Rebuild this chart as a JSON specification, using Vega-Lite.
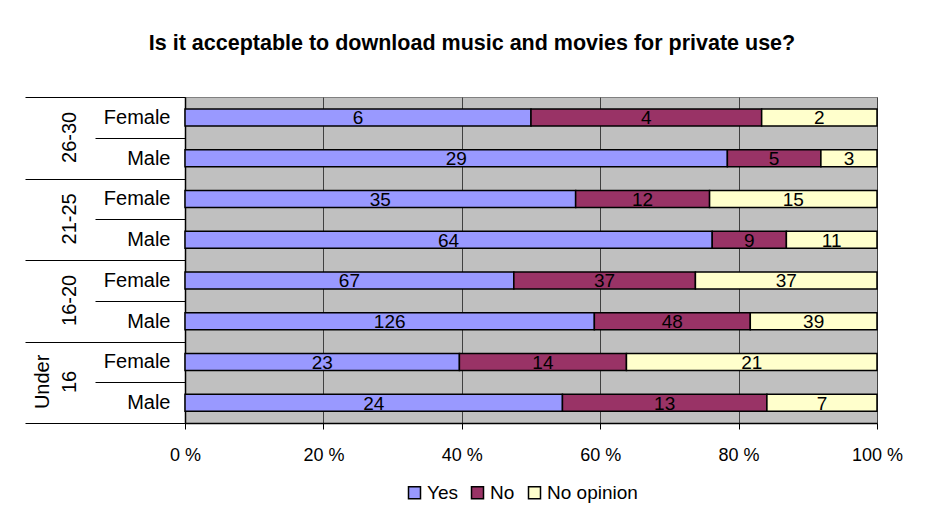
{
  "$schema": "https://vega.github.io/schema/vega-lite/v6.json",
  "width": 692,
  "height": 326,
  "autosize": {"type": "none"},
  "padding": {"left": 185, "top": 97, "right": 54, "bottom": 109},
  "background": "white",
  "title": {"text": "Is it acceptable to download music and movies for private use?", "font": "Liberation Sans", "fontSize": 21.5, "fontWeight": "bold", "color": "black", "offset": 33, "anchor": "middle", "frame": "group", "dx": -59},
  "data": {"values": [
    {"key": "26-30|Female", "resp": "Yes", "ord": 1, "n": 6},
    {"key": "26-30|Female", "resp": "No", "ord": 2, "n": 4},
    {"key": "26-30|Female", "resp": "No opinion", "ord": 3, "n": 2},
    {"key": "26-30|Male", "resp": "Yes", "ord": 1, "n": 29},
    {"key": "26-30|Male", "resp": "No", "ord": 2, "n": 5},
    {"key": "26-30|Male", "resp": "No opinion", "ord": 3, "n": 3},
    {"key": "21-25|Female", "resp": "Yes", "ord": 1, "n": 35},
    {"key": "21-25|Female", "resp": "No", "ord": 2, "n": 12},
    {"key": "21-25|Female", "resp": "No opinion", "ord": 3, "n": 15},
    {"key": "21-25|Male", "resp": "Yes", "ord": 1, "n": 64},
    {"key": "21-25|Male", "resp": "No", "ord": 2, "n": 9},
    {"key": "21-25|Male", "resp": "No opinion", "ord": 3, "n": 11},
    {"key": "16-20|Female", "resp": "Yes", "ord": 1, "n": 67},
    {"key": "16-20|Female", "resp": "No", "ord": 2, "n": 37},
    {"key": "16-20|Female", "resp": "No opinion", "ord": 3, "n": 37},
    {"key": "16-20|Male", "resp": "Yes", "ord": 1, "n": 126},
    {"key": "16-20|Male", "resp": "No", "ord": 2, "n": 48},
    {"key": "16-20|Male", "resp": "No opinion", "ord": 3, "n": 39},
    {"key": "Under 16|Female", "resp": "Yes", "ord": 1, "n": 23},
    {"key": "Under 16|Female", "resp": "No", "ord": 2, "n": 14},
    {"key": "Under 16|Female", "resp": "No opinion", "ord": 3, "n": 21},
    {"key": "Under 16|Male", "resp": "Yes", "ord": 1, "n": 24},
    {"key": "Under 16|Male", "resp": "No", "ord": 2, "n": 13},
    {"key": "Under 16|Male", "resp": "No opinion", "ord": 3, "n": 7}
  ]},
  "transform": [
    {"stack": "n", "groupby": ["key"], "sort": [{"field": "ord", "order": "ascending"}], "offset": "normalize", "as": ["x0", "x1"]},
    {"calculate": "(datum.x0 + datum.x1) / 2", "as": "xmid"}
  ],
  "layer": [
    {
      "mark": {"type": "bar", "size": 17, "stroke": "black", "strokeWidth": 1.5},
      "encoding": {
        "y": {
          "field": "key", "type": "nominal",
          "sort": ["26-30|Female", "26-30|Male", "21-25|Female", "21-25|Male", "16-20|Female", "16-20|Male", "Under 16|Female", "Under 16|Male"],
          "scale": {"paddingInner": 0, "paddingOuter": 0},
          "axis": {
            "orient": "left", "title": null,
            "labelExpr": "indexof(datum.value + '', 'Female') >= 0 ? 'Female' : (indexof(datum.value + '', 'Male') >= 0 ? 'Male' : '')",
            "labelFont": "Liberation Sans", "labelFontSize": 20, "labelColor": "black",
            "labelPadding": -75,
            "tickBand": "extent", "tickSize": 90, "tickColor": "black", "tickWidth": 1,
            "tickOpacity": {"condition": {"test": "indexof(datum.value + '', '|Female') >= 0", "value": 1}, "value": 0},
            "domain": true, "domainColor": "black", "domainWidth": 1.5
          }
        },
        "x": {
          "field": "x0", "type": "quantitative",
          "scale": {"domain": [0, 1], "nice": false},
          "axis": {
            "orient": "bottom", "title": null, "values": [0, 0.2, 0.4, 0.6, 0.8, 1],
            "labelExpr": "round(datum.value * 100) + ' %'",
            "labelFont": "Liberation Sans", "labelFontSize": 18, "labelColor": "black",
            "labelPadding": 17, "labelFlush": false,
            "tickSize": 6, "tickColor": "black", "tickWidth": 1,
            "grid": true, "gridColor": "#404040", "gridWidth": 1,
            "domainColor": "black", "domainWidth": 1.5
          }
        },
        "x2": {"field": "x1"},
        "color": {
          "field": "resp", "type": "nominal",
          "scale": {"domain": ["Yes", "No", "No opinion"], "range": ["#9999FF", "#993366", "#FFFFCC"]},
          "legend": {
            "orient": "none", "legendX": 220, "legendY": 386, "direction": "horizontal", "title": null,
            "symbolType": "square", "symbolSize": 144, "symbolStrokeColor": "black", "symbolStrokeWidth": 1.5,
            "labelFont": "Liberation Sans", "labelFontSize": 19, "labelColor": "black",
            "labelOffset": 3, "columnPadding": 10
          }
        }
      }
    },
    {
      "mark": {"type": "text", "font": "Liberation Sans", "fontSize": 19, "color": "black", "baseline": "middle", "dy": 1},
      "encoding": {
        "y": {"field": "key", "type": "nominal", "sort": ["26-30|Female", "26-30|Male", "21-25|Female", "21-25|Male", "16-20|Female", "16-20|Male", "Under 16|Female", "Under 16|Male"], "axis": null},
        "x": {"field": "xmid", "type": "quantitative"},
        "text": {"field": "n", "type": "quantitative"}
      }
    },
    {
      "mark": {"type": "text", "text": ""},
      "encoding": {
        "y": {
          "field": "key", "type": "nominal",
          "sort": ["26-30|Female", "26-30|Male", "21-25|Female", "21-25|Male", "16-20|Female", "16-20|Male", "Under 16|Female", "Under 16|Male"],
          "axis": {
            "orient": "left", "title": null, "labels": false, "domain": false,
            "tickBand": "extent", "tickSize": 160, "tickColor": "black", "tickWidth": 1,
            "tickOpacity": {"condition": {"test": "indexof(datum.value + '', '|Female') >= 0", "value": 0}, "value": 1}
          }
        },
        "x": {"field": "x0", "type": "quantitative"}
      }
    },
    {
      "mark": {"type": "text", "text": ""},
      "encoding": {
        "y": {
          "field": "key", "type": "nominal",
          "sort": ["26-30|Female", "26-30|Male", "21-25|Female", "21-25|Male", "16-20|Female", "16-20|Male", "Under 16|Female", "Under 16|Male"],
          "axis": {
            "orient": "left", "title": null, "domain": false, "ticks": false,
            "labelOffset": 20,
            "labelExpr": "indexof(datum.value + '', 'Female') >= 0 ? (indexof(datum.value + '', 'Under') == 0 ? '16' : slice(datum.value + '', 0, 5)) : ''",
            "labelAngle": -90, "labelAlign": "center", "labelBaseline": "alphabetic",
            "labelFont": "Liberation Sans", "labelFontSize": 20, "labelColor": "black",
            "labelPadding": 110
          }
        },
        "x": {"field": "x0", "type": "quantitative"}
      }
    },
    {
      "mark": {"type": "text", "text": ""},
      "encoding": {
        "y": {
          "field": "key", "type": "nominal",
          "sort": ["26-30|Female", "26-30|Male", "21-25|Female", "21-25|Male", "16-20|Female", "16-20|Male", "Under 16|Female", "Under 16|Male"],
          "axis": {
            "orient": "left", "title": null, "domain": false, "ticks": false,
            "labelOffset": 20,
            "labelExpr": "(datum.value + '') == 'Under 16|Female' ? 'Under' : ''",
            "labelAngle": -90, "labelAlign": "center", "labelBaseline": "alphabetic",
            "labelFont": "Liberation Sans", "labelFontSize": 20, "labelColor": "black",
            "labelPadding": 137
          }
        },
        "x": {"field": "x0", "type": "quantitative"}
      }
    }
  ],
  "resolve": {"axis": {"y": "independent"}},
  "config": {
    "view": {"fill": "#C0C0C0", "stroke": "#808080", "strokeWidth": 1}
  }
}
